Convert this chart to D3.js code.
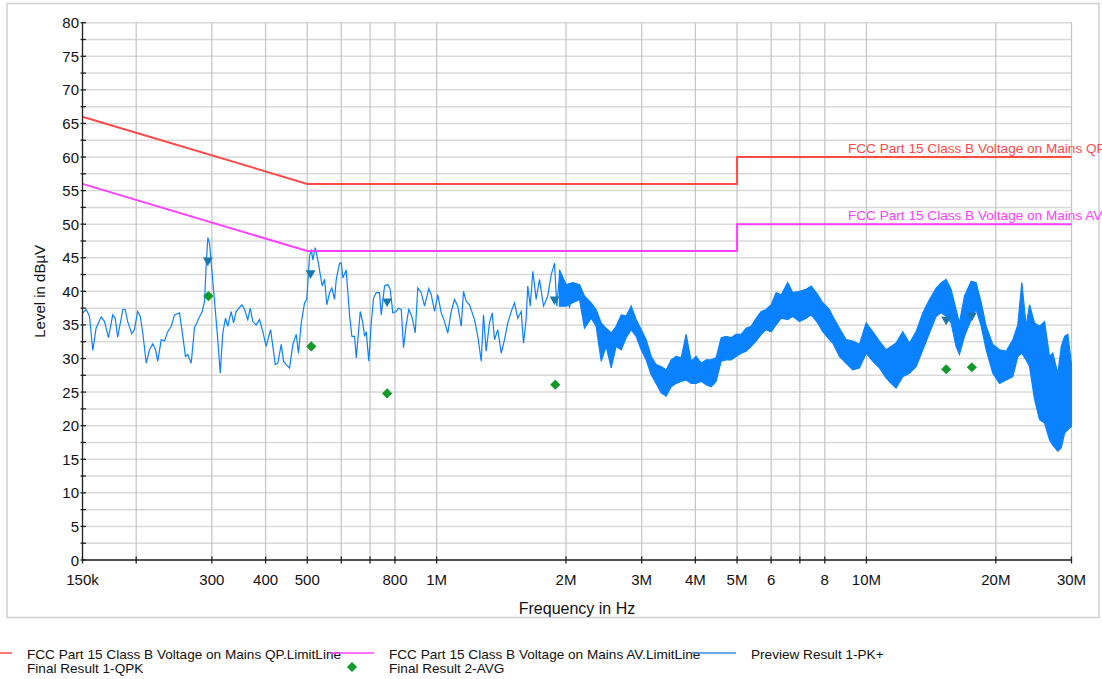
<!DOCTYPE html>
<html>
<head>
<meta charset="utf-8">
<script src="https://cdn.jsdelivr.net/npm/d3@7"></script>
<style>
  body { margin: 0; background: #fff; }
  svg { display: block; font-family: "Liberation Sans", Arial, sans-serif; }
</style>
</head>
<body>
<div id="chart"></div>
<script>
// limit lines, frequency in MHz / level in dBuV
var qpLimit = [[0.15, 66], [0.5, 56], [5, 56], [5, 60], [30, 60]];
var avLimit = [[0.15, 56], [0.5, 46], [5, 46], [5, 50], [30, 50]];

// preview PK+ trace, low frequency part (single line)
var pkTrace = [
  [0.1503,36.8],[0.1530,37.3],[0.1557,36.3],[0.1585,31.2],[0.1613,34.5],[0.1658,36.2],[0.1688,35.5],
  [0.1724,33.1],[0.1764,36.5],[0.1787,36.0],[0.1811,33.2],[0.1862,37.3],[0.1886,37.3],[0.1911,35.5],
  [0.1953,33.7],[0.1981,34.3],[0.2016,37.0],[0.2044,36.3],[0.2072,33.8],[0.2110,29.3],[0.2148,31.3],
  [0.2186,32.2],[0.2218,31.3],[0.2245,29.6],[0.2287,32.8],[0.2328,32.6],[0.2368,34.0],[0.2413,34.8],
  [0.2456,36.5],[0.2522,36.8],[0.2567,33.3],[0.2604,30.3],[0.2636,30.6],[0.2685,29.3],[0.2733,34.6],
  [0.2767,35.3],[0.2796,36.0],[0.2849,37.0],[0.2884,38.5],[0.2911,44.2],[0.2936,48.0],[0.2962,47.2],
  [0.2989,44.2],[0.3015,41.5],[0.3059,36.8],[0.3096,32.8],[0.3137,27.8],[0.3181,33.8],[0.3227,36.0],
  [0.3266,34.8],[0.3327,37.0],[0.3369,35.3],[0.3416,37.0],[0.3522,38.0],[0.3574,37.3],[0.3636,35.8],
  [0.3684,37.5],[0.3735,35.5],[0.3803,35.0],[0.3872,35.8],[0.3941,34.0],[0.4012,31.8],[0.4062,33.1],
  [0.4108,34.3],[0.4159,31.8],[0.4213,29.1],[0.4271,29.3],[0.4350,32.1],[0.4404,29.6],[0.4466,29.1],
  [0.4548,28.6],[0.4629,32.1],[0.4713,33.6],[0.4771,30.8],[0.4842,35.3],[0.4929,38.3],[0.4989,38.8],
  [0.5062,45.2],[0.5109,46.2],[0.5152,44.7],[0.5219,46.5],[0.5291,44.7],[0.5419,40.8],[0.5486,41.8],
  [0.5554,38.0],[0.5635,39.8],[0.5705,40.5],[0.5788,38.8],[0.5841,41.8],[0.5945,44.2],[0.6000,44.2],
  [0.6051,42.0],[0.6160,43.2],[0.6272,36.5],[0.6350,33.3],[0.6443,33.3],[0.6502,30.1],[0.6642,37.0],
  [0.6735,35.3],[0.6797,33.3],[0.6859,34.0],[0.6953,29.6],[0.7045,35.3],[0.7133,39.0],[0.7234,39.8],
  [0.7365,39.8],[0.7433,36.5],[0.7565,40.8],[0.7698,41.0],[0.7800,40.3],[0.7908,36.8],[0.8051,37.0],
  [0.8151,37.5],[0.8273,37.3],[0.8376,31.6],[0.8495,35.0],[0.8614,37.3],[0.8756,36.3],[0.8917,33.8],
  [0.9040,40.5],[0.9209,39.8],[0.9373,37.8],[0.9589,40.4],[0.9716,39.5],[0.9889,37.0],[1.0062,39.5],
  [1.0250,36.8],[1.0433,35.5],[1.0616,33.8],[1.0814,37.0],[1.1006,38.8],[1.1199,37.8],[1.1409,34.8],
  [1.1550,40.0],[1.1714,38.5],[1.1927,38.0],[1.2251,35.8],[1.2466,33.3],[1.2699,29.6],[1.2856,36.5],
  [1.3039,31.1],[1.3275,35.3],[1.3469,36.8],[1.3636,32.8],[1.3875,34.3],[1.4135,30.8],[1.4387,32.8],
  [1.4639,35.3],[1.4913,37.0],[1.5179,38.3],[1.5445,36.0],[1.5733,37.0],[1.5928,32.3],[1.6154,35.8],
  [1.6295,40.8],[1.6513,37.8],[1.6743,43.0],[1.7045,38.8],[1.7350,41.8],[1.7727,37.8],[1.8134,39.3],
  [1.8478,42.5],[1.8808,44.2],[1.9039,37.8],[1.9310,42.2],[1.9654,38.8],[2.0009,40.8],[2.0380,37.5],
  [2.0743,41.0],[2.1118,38.5],[2.1500,41.0]
];

// preview PK+ trace, dense part: [MHz, low, high]
var pkBand = [
  [1.931,37.8,43.2],[2.002,37.8,41.0],[2.074,38.3,41.3],[2.150,38.8,41.0],[2.208,34.5,39.3],
  [2.289,36.0,38.3],[2.350,34.8,37.3],[2.415,29.6,35.3],[2.480,31.8,34.5],[2.548,28.6,33.8],
  [2.616,31.8,34.8],[2.689,31.3,36.5],[2.760,33.1,36.3],[2.836,34.3,37.8],[2.912,33.3,35.8],
  [2.992,31.3,34.3],[3.072,29.8,32.8],[3.157,27.6,30.3],[3.241,26.3,29.1],[3.330,24.9,28.8],
  [3.420,24.4,28.3],[3.514,25.8,29.8],[3.608,26.3,30.3],[3.707,26.6,30.1],[3.806,26.8,33.6],
  [3.911,26.3,29.6],[4.015,26.3,30.3],[4.126,26.6,29.3],[4.236,26.1,29.8],[4.353,25.8,29.8],
  [4.469,26.6,30.1],[4.593,29.6,33.1],[4.716,29.8,33.3],[4.845,29.8,33.1],[4.975,30.3,33.6],
  [5.112,30.8,33.6],[5.248,31.1,34.5],[5.393,31.8,34.8],[5.538,32.6,36.0],[5.690,33.6,37.0],
  [5.842,34.3,37.3],[6.003,34.0,38.0],[6.163,35.0,39.8],[6.334,36.0,39.5],[6.560,35.8,41.3],
  [6.739,36.3,39.8],[6.985,35.5,40.0],[7.241,36.0,40.3],[7.438,36.5,40.8],[7.703,35.3,39.5],
  [7.913,34.0,38.3],[8.203,32.8,37.3],[8.349,32.3,36.3],[8.655,30.3,34.5],[8.972,29.3,32.8],
  [9.294,28.3,32.6],[9.633,28.6,32.1],[9.986,30.8,35.3],[10.34,29.6,34.0],[10.72,28.6,32.6],
  [11.11,27.1,31.3],[11.41,26.3,31.8],[11.72,25.6,32.3],[12.15,27.3,34.0],[12.59,27.8,32.3],
  [13.05,28.8,34.0],[13.53,31.3,36.8],[14.02,33.8,38.8],[14.53,36.3,40.5],[14.93,36.8,41.3],
  [15.33,36.3,41.8],[15.74,35.3,40.3],[16.16,31.8,37.3],[16.46,30.6,35.3],[16.91,33.3,39.3],
  [17.53,35.8,41.5],[18.00,37.3,41.3],[18.50,34.8,38.3],[18.99,31.3,34.8],[19.68,27.8,32.1],
  [20.40,26.3,31.3],[21.15,26.8,31.1],[21.91,27.3,32.8],[22.50,30.3,35.0],[22.99,30.8,41.3],
  [23.53,29.8,34.8],[23.96,28.8,38.0],[24.61,23.9,35.3],[25.28,20.9,34.8],[25.97,20.4,35.5],
  [26.67,17.9,30.3],[27.14,17.1,30.8],[27.88,16.2,27.8],[28.40,16.7,31.8],[28.91,18.9,33.3],
  [29.41,19.4,33.6],[30.00,19.9,29.1]
];

// final results
var qpkFinal = [[0.2936,44.6],[0.509,42.7],[0.767,38.5],[1.881,38.8],[15.33,35.8],[17.59,36.4]];
var avgFinal = [[0.2945,39.3],[0.511,31.8],[0.767,24.8],[1.888,26.1],[15.33,28.4],[17.59,28.7]];

var xTicks = [0.15, 0.2, 0.3, 0.4, 0.5, 0.6, 0.7, 0.8, 1, 2, 3, 4, 5, 6, 7, 8, 10, 20, 30];
var xTickLabels = ["150k", "", "300", "400", "500", "", "", "800", "1M", "2M", "3M", "4M", "5M", "6", "", "8", "10M", "20M", "30M"];
var yTicks = d3.range(0, 81, 5);
var yGrid = d3.range(0, 80.1, 2.5);

var legendItems = [
  {name: "FCC Part 15 Class B Voltage on Mains QP.LimitLine", kind: "line", color: "#ff4a4a", row: 0, col: 0},
  {name: "FCC Part 15 Class B Voltage on Mains AV.LimitLine", kind: "line", color: "#ff40ff", row: 0, col: 1},
  {name: "Preview Result 1-PK+", kind: "line", color: "#3a8ae0", row: 0, col: 2},
  {name: "Final Result 1-QPK", kind: "tri", color: "#1a78ad", row: 1, col: 0},
  {name: "Final Result 2-AVG", kind: "dia", color: "#149a2c", row: 1, col: 1}
];

var width = 1102, height = 679,
    plotLeft = 82.5, plotRight = 1071.5, plotTop = 22.7, plotBottom = 560;

var traceColour = "#0a82ff",
    qpColour = "#ff4a4a",
    avColour = "#ff40ff";

var svg = d3.select("#chart").append("svg")
  .attr("width", width)
  .attr("height", height);

var x = d3.scaleLog().domain([0.15, 30]).range([plotLeft, plotRight]);
var y = d3.scaleLinear().domain([0, 80]).range([plotBottom, plotTop]);

// outer frame
svg.append("rect")
  .attr("x", 7).attr("y", 3.5)
  .attr("width", 1092).attr("height", 614)
  .attr("fill", "none").attr("stroke", "#cfcfcf").attr("stroke-width", 1.5);

// grid
svg.append("g").selectAll("line")
  .data(yGrid)
  .enter().append("line")
  .attr("x1", plotLeft).attr("x2", plotRight)
  .attr("y1", function(d) { return y(d); })
  .attr("y2", function(d) { return y(d); })
  .attr("stroke", "#d9d9d9").attr("stroke-width", 1.5);

svg.append("g").selectAll("line")
  .data(xTicks)
  .enter().append("line")
  .attr("x1", function(d) { return x(d); })
  .attr("x2", function(d) { return x(d); })
  .attr("y1", plotTop).attr("y2", plotBottom)
  .attr("stroke", "#c4c4c4").attr("stroke-width", 1.2);

svg.append("clipPath").attr("id", "plotclip")
  .append("rect")
  .attr("x", plotLeft).attr("y", plotTop - 2)
  .attr("width", plotRight - plotLeft + 1).attr("height", plotBottom - plotTop + 2);

var plot = svg.append("g").attr("clip-path", "url(#plotclip)");

// PK+ trace
var band = d3.area()
  .x(function(d) { return x(d[0]); })
  .y0(function(d) { return y(d[1]); })
  .y1(function(d) { return y(d[2]); });

plot.append("path")
  .datum(pkBand)
  .attr("d", band)
  .attr("fill", traceColour)
  .attr("stroke", traceColour)
  .attr("stroke-width", 1.2);

var line = d3.line()
  .x(function(d) { return x(d[0]); })
  .y(function(d) { return y(d[1]); });

plot.append("path")
  .datum(pkTrace)
  .attr("d", line)
  .attr("fill", "none")
  .attr("stroke", traceColour)
  .attr("stroke-width", 1.2);

// limit lines
plot.append("path").datum(qpLimit).attr("d", line)
  .attr("fill", "none").attr("stroke", qpColour).attr("stroke-width", 2);
plot.append("path").datum(avLimit).attr("d", line)
  .attr("fill", "none").attr("stroke", avColour).attr("stroke-width", 2);

svg.append("text")
  .attr("x", 848).attr("y", y(60) - 4.5)
  .attr("fill", qpColour).attr("font-size", 13.6)
  .text("FCC Part 15 Class B Voltage on Mains QP");
svg.append("text")
  .attr("x", 848).attr("y", y(50) - 4.5)
  .attr("fill", avColour).attr("font-size", 13.6)
  .text("FCC Part 15 Class B Voltage on Mains AV");

// final results markers
var tri = d3.symbol().type(d3.symbolTriangle).size(42);
var dia = d3.symbol().type(d3.symbolSquare).size(52);

plot.selectAll(".qpk")
  .data(qpkFinal)
  .enter().append("path")
  .attr("class", "qpk")
  .attr("d", tri)
  .attr("transform", function(d) { return "translate(" + x(d[0]) + "," + y(d[1]) + ") rotate(180)"; })
  .attr("fill", "#1a78ad");

plot.selectAll(".avg")
  .data(avgFinal)
  .enter().append("path")
  .attr("class", "avg")
  .attr("d", dia)
  .attr("transform", function(d) { return "translate(" + x(d[0]) + "," + y(d[1]) + ") rotate(45)"; })
  .attr("fill", "#149a2c");

// axes
var yAxis = svg.append("g");
yAxis.append("line")
  .attr("x1", plotLeft).attr("x2", plotLeft).attr("y1", plotTop).attr("y2", plotBottom)
  .attr("stroke", "#222").attr("stroke-width", 1.3);
yAxis.selectAll(".ytick")
  .data(yGrid)
  .enter().append("line")
  .attr("x1", plotLeft - 2).attr("x2", plotLeft + 3.5)
  .attr("y1", function(d) { return y(d); })
  .attr("y2", function(d) { return y(d); })
  .attr("stroke", "#222").attr("stroke-width", 1.3);
yAxis.selectAll("text")
  .data(yTicks)
  .enter().append("text")
  .attr("x", plotLeft - 3.5)
  .attr("y", function(d) { return y(d) + 5.5; })
  .attr("text-anchor", "end")
  .attr("font-size", 15)
  .attr("fill", "#111")
  .text(function(d) { return d; });

var xAxis = svg.append("g");
xAxis.append("line")
  .attr("x1", plotLeft).attr("x2", plotRight).attr("y1", plotBottom).attr("y2", plotBottom)
  .attr("stroke", "#222").attr("stroke-width", 1.3);
xAxis.selectAll(".xtick")
  .data(xTicks)
  .enter().append("line")
  .attr("x1", function(d) { return x(d); })
  .attr("x2", function(d) { return x(d); })
  .attr("y1", plotBottom - 3.5).attr("y2", plotBottom + 3.5)
  .attr("stroke", "#222").attr("stroke-width", 1.3);
xAxis.selectAll("text")
  .data(xTicks)
  .enter().append("text")
  .attr("x", function(d) { return x(d); })
  .attr("y", 585)
  .attr("text-anchor", "middle")
  .attr("font-size", 15)
  .attr("fill", "#111")
  .text(function(d, i) { return xTickLabels[i]; });

svg.append("text")
  .attr("x", (plotLeft + plotRight) / 2).attr("y", 614)
  .attr("text-anchor", "middle")
  .attr("font-size", 16)
  .attr("fill", "#111")
  .text("Frequency in Hz");

svg.append("text")
  .attr("transform", "translate(45," + ((plotTop + plotBottom) / 2) + ") rotate(-90)")
  .attr("text-anchor", "middle")
  .attr("font-size", 15)
  .attr("fill", "#111")
  .text("Level in dBµV");

// legend
var legend = svg.append("g");
var legendCol = d3.scaleLinear().domain([0, 1]).range([-32, 330]);
legendItems.forEach(function(d) {
  var x0 = legendCol(d.col), yy = 653 + d.row * 14;
  if (d.kind == "line") {
    legend.append("line")
      .attr("x1", x0).attr("x2", x0 + 44)
      .attr("y1", yy).attr("y2", yy)
      .attr("stroke", d.color).attr("stroke-width", 1.3);
  } else if (d.kind == "tri") {
    legend.append("path").attr("d", tri)
      .attr("transform", "translate(" + (x0 + 22) + "," + yy + ") rotate(180)")
      .attr("fill", d.color);
  } else {
    legend.append("path").attr("d", dia)
      .attr("transform", "translate(" + (x0 + 22) + "," + yy + ") rotate(45)")
      .attr("fill", d.color);
  }
  legend.append("text")
    .attr("x", x0 + 59).attr("y", yy + 5.5)
    .attr("font-size", 13.6)
    .attr("fill", "#111")
    .text(d.name);
});
</script>
</body>
</html>
